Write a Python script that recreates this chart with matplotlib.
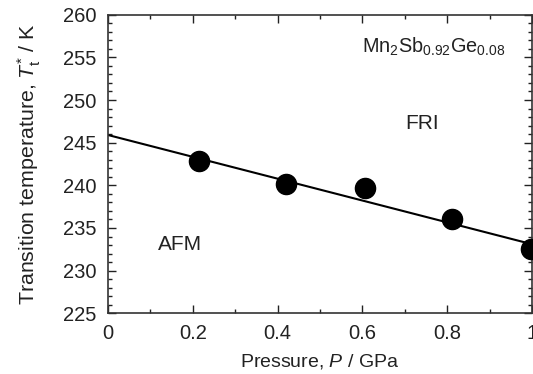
import numpy as np
import matplotlib
matplotlib.use('Agg')
import matplotlib.pyplot as plt
from matplotlib.ticker import MultipleLocator

plt.rcParams['font.family'] = ['Liberation Sans', 'DejaVu Sans']
plt.rcParams['mathtext.fontset'] = 'custom'
plt.rcParams['mathtext.rm'] = 'Liberation Sans'
plt.rcParams['mathtext.it'] = 'Liberation Sans:italic'

# ---- data ----
pressure = [0.215, 0.419, 0.607, 0.8125, 0.997]      # GPa
t_trans = [242.8, 240.2, 239.7, 236.1, 232.5]        # K
fit_p = [0.0, 1.0]
fit_t = [245.9, 233.1]

phase_labels = ['AFM', 'FRI']
phase_pos = [(0.17, 233.1), (0.741, 247.3)]

fig = plt.figure(figsize=(5.33, 3.74), dpi=100)
ax = fig.add_axes([0.2026, 0.1623, 0.7954, 0.7984])

ax.plot(fit_p, fit_t, color='black', lw=1.5, zorder=2)
ax.plot(pressure, t_trans, 'o', color='black', ms=14.5, zorder=3, clip_on=False)

for lab, (x, y) in zip(phase_labels, phase_pos):
    ax.text(x, y, lab, fontsize=15, ha='center', va='center', color='#222222')
ax.text(0.598, 256.2, r'Mn$_2$Sb$_{0.92}$Ge$_{0.08}$', fontsize=14.3,
        ha='left', va='center', color='#222222')

ax.set_xlim(0, 1)
ax.set_ylim(225, 260)
ax.xaxis.set_major_locator(MultipleLocator(0.2))
ax.xaxis.set_minor_locator(MultipleLocator(0.1))
ax.yaxis.set_major_locator(MultipleLocator(5))
ax.yaxis.set_minor_locator(MultipleLocator(1))
ax.set_xticks([0, 0.2, 0.4, 0.6, 0.8, 1.0])
ax.set_xticklabels(['0', '0.2', '0.4', '0.6', '0.8', '1'])

ax.tick_params(which='both', direction='in', top=True, right=True,
               labelsize=14.5, colors='#222222', width=1.0)
ax.tick_params(which='major', length=6, pad=8)
ax.tick_params(which='minor', length=3)
for s in ax.spines.values():
    s.set_linewidth(1.2)
    s.set_color('#333333')

ax.set_xlabel(r'Pressure, $P$ / GPa', fontsize=14, color='#222222', labelpad=6)
ax.set_ylabel(r'Transition temperature, $T^{*}_{\rm t}$ / K', fontsize=15.4,
              color='#222222', labelpad=15)

fig.savefig('out.png', dpi=100)
